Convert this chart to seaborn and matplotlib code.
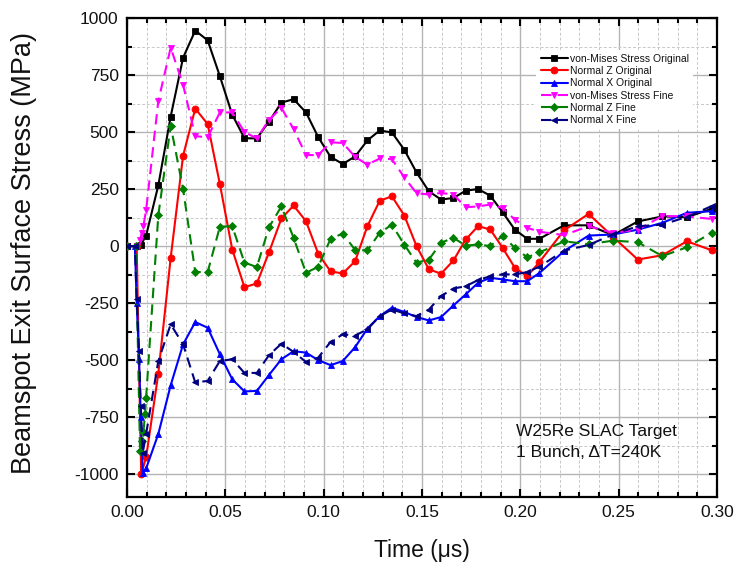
#!/usr/bin/env python3
"""Surface stress at the beamspot exit versus time (W25Re SLAC target)."""

import pandas as pd
import seaborn as sns
from matplotlib import pyplot as plt
from matplotlib.ticker import FormatStrFormatter, MultipleLocator

# Common sampling times of the markers (us)
t_main = [0.0097, 0.0159, 0.0222, 0.0285, 0.0347, 0.0410, 0.0472, 0.0535,
          0.0597, 0.0660, 0.0722, 0.0785, 0.0847, 0.0910, 0.0972, 0.1035,
          0.1097, 0.1160, 0.1222, 0.1285, 0.1347, 0.1410, 0.1472, 0.1535,
          0.1597, 0.1660, 0.1722, 0.1785, 0.1847, 0.1910, 0.1972, 0.2035,
          0.2097, 0.2222, 0.2347, 0.2472, 0.2597, 0.2722, 0.2847, 0.2972]

# Early (fast) part of each series
t_vm_orig_early = [0.0, 0.0049, 0.0070]
vm_orig_early = [0, 0, 5]
t_z_orig_early = [0.0, 0.0049, 0.0072]
z_orig_early = [0, 0, -1000]
t_x_orig_early = [0.0, 0.0040, 0.0049, 0.0061, 0.0070, 0.0080]
x_orig_early = [0, 0, -248, -496, -751, -995]
t_vm_fine_early = [0.0, 0.0049, 0.0066, 0.0075, 0.0083]
vm_fine_early = [0, 0, 25, 58, 87]
t_z_fine_early = [0.0, 0.0045, 0.0066, 0.0075, 0.0083, 0.0092]
z_fine_early = [0, 0, -897, -853, -814, -737]
t_x_fine_early = [0.0, 0.0040, 0.0049, 0.0061, 0.0070, 0.0080]
x_fine_early = [0, 0, -234, -460, -700, -905]

# Values at t_main (MPa)
vm_orig = [46, 266, 568, 826, 945, 902, 745, 576, 473, 472, 546, 629, 644, 586,
           478, 391, 360, 393, 463, 507, 498, 422, 323, 240, 204, 211, 243, 250,
           221, 148, 72, 32, 32, 91, 91, 48, 108, 130, 127, 163]
z_orig = [-926, -559, -51, 396, 603, 535, 272, -15, -180, -164, -27, 121, 178,
          109, -33, -111, -120, -66, 87, 199, 218, 134, 0, -102, -121, -63, 29,
          87, 73, -8, -95, -132, -70, 69, 141, 40, -59, -40, 21, -18]
x_orig = [-975, -824, -610, -431, -333, -358, -474, -584, -637, -635, -565,
          -496, -461, -467, -500, -522, -504, -443, -362, -307, -270, -289,
          -311, -326, -311, -260, -212, -161, -139, -146, -154, -154, -118,
          -22, 46, 51, 72, 102, 146, 153]
vm_fine = [158, 636, 870, 707, 482, 477, 586, 586, 500, 472, 554, 606, 513, 399,
           399, 455, 452, 391, 357, 384, 381, 301, 232, 226, 233, 226, 170, 174,
           182, 167, 116, 80, 63, 48, 87, 58, 72, 132, 130, 119]
z_fine = [-664, 135, 527, 250, -114, -114, 85, 87, -72, -92, 83, 174, 36, -117,
          -91, 32, 55, -17, -19, 58, 94, 6, -73, -59, 15, 36, 2, 7, 0, 46, -8,
          -49, -28, 21, 8, 24, 17, -44, -5, 58]
x_fine = [-824, -504, -343, -431, -598, -591, -504, -496, -556, -556, -478,
          -428, -464, -508, -489, -420, -387, -392, -365, -307, -278, -295,
          -307, -278, -219, -186, -176, -149, -132, -124, -124, -114, -90, -20,
          5, 51, 87, 94, 128, 175]

labels = ["von-Mises Stress Original", "Normal Z Original", "Normal X Original",
          "von-Mises Stress Fine", "Normal Z Fine", "Normal X Fine"]
colors = ["#000000", "#FF0000", "#0000FF", "#FF00FF", "#008000", "#000080"]
markers = ["s", "o", "^", "v", "D", "<"]


def main():
    sns.set_style("ticks")
    plt.rcParams["font.family"] = ["Liberation Sans", "DejaVu Sans"]
    plt.rcParams["axes.unicode_minus"] = False
    plt.rcParams["text.color"] = "#111111"
    plt.rcParams["axes.labelcolor"] = "#111111"
    plt.rcParams["xtick.labelcolor"] = "#111111"
    plt.rcParams["ytick.labelcolor"] = "#111111"

    series = [
        (t_vm_orig_early + t_main, vm_orig_early + vm_orig),
        (t_z_orig_early + t_main, z_orig_early + z_orig),
        (t_x_orig_early + t_main, x_orig_early + x_orig),
        (t_vm_fine_early + t_main, vm_fine_early + vm_fine),
        (t_z_fine_early + t_main, z_fine_early + z_fine),
        (t_x_fine_early + t_main, x_fine_early + x_fine),
    ]

    fig = plt.figure(figsize=(7.36, 5.64), dpi=100)
    ax = fig.add_axes([0.1726, 0.1188, 0.8016, 0.8493])

    for i, (t, v) in enumerate(series):
        df = pd.DataFrame({"t": t, "s": v})
        fine = i >= 3
        sns.lineplot(
            data=df, x="t", y="s", ax=ax, sort=False, estimator=None,
            color=colors[i], marker=markers[i],
            markersize=5.0 if markers[i] != "D" else 4.4,
            markeredgewidth=0.6, markeredgecolor=colors[i],
            linewidth=1.5, linestyle=(0, (5, 3)) if fine else "-",
            label=labels[i], zorder=3 + i,
        )

    ax.set_xlim(0, 0.30)
    ax.set_ylim(-1100, 1000)
    ax.xaxis.set_major_locator(MultipleLocator(0.05))
    ax.xaxis.set_minor_locator(MultipleLocator(0.01))
    ax.xaxis.set_major_formatter(FormatStrFormatter("%.2f"))
    ax.yaxis.set_major_locator(MultipleLocator(250))
    ax.yaxis.set_minor_locator(MultipleLocator(125))

    ax.grid(which="major", color="#b4b4b4", linewidth=1.0, linestyle="-", zorder=0)
    ax.grid(which="minor", color="#c8c8c8", linewidth=0.7, linestyle=(0, (3, 2)), zorder=0)
    ax.set_axisbelow(True)

    ax.tick_params(which="both", direction="in", top=True, right=True,
                   color="black", width=1.5, labelsize=12.5)
    ax.tick_params(which="major", length=6, pad=6)
    ax.tick_params(which="minor", length=3.5)
    for sp in ax.spines.values():
        sp.set_visible(True)
        sp.set_linewidth(1.6)
        sp.set_color("black")

    ax.set_xlabel("Time (\u03bcs)", fontsize=16.5)
    ax.xaxis.set_label_coords(0.5, -0.088)
    ax.set_ylabel("Beamspot Exit Surface Stress (MPa)", fontsize=19.5)
    ax.yaxis.set_label_coords(-0.152, 0.51)

    ax.text(0.659, 0.152, "W25Re SLAC Target\n1 Bunch,\u2009\u0394T=240K",
            transform=ax.transAxes, fontsize=12.5, va="top", ha="left",
            linespacing=1.5, zorder=10)

    handles, lbls = ax.get_legend_handles_labels()
    leg = ax.legend(handles, lbls, loc="upper left", bbox_to_anchor=(0.685, 0.945),
                    fontsize=7.5, frameon=True, fancybox=False, framealpha=1,
                    handlelength=2.6, handletextpad=0.2, labelspacing=0.22,
                    borderpad=0.4)
    leg.get_frame().set_edgecolor("none")
    leg.get_frame().set_facecolor("white")

    fig.savefig("out.png", dpi=100)


if __name__ == "__main__":
    main()
